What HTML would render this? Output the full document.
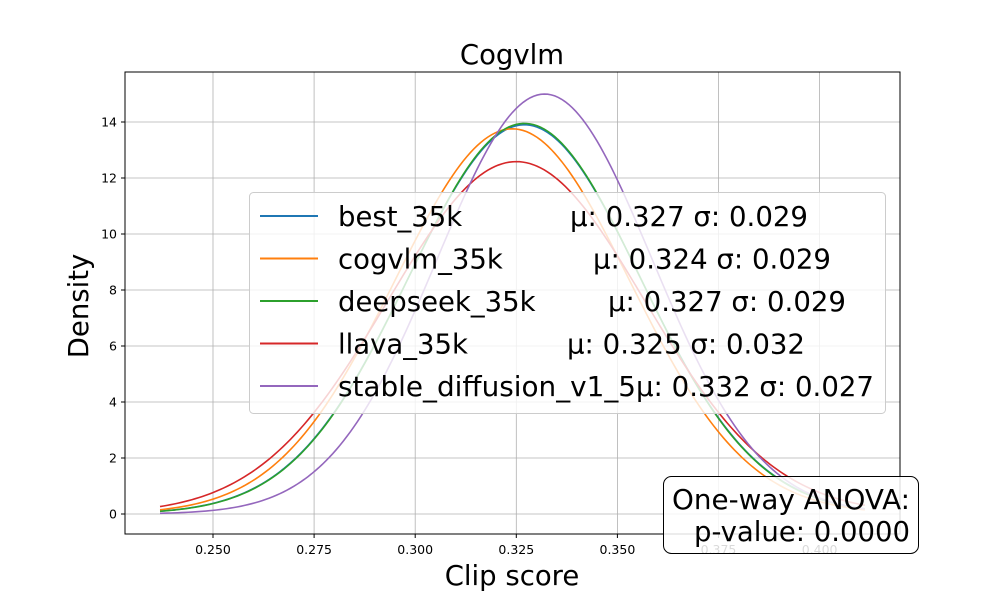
<!DOCTYPE html>
<html><head><meta charset="utf-8"><style>
body{margin:0;background:#fff}
svg{display:block;font-family:"DejaVu Sans","Liberation Sans",sans-serif}
</style></head><body>
<svg id="chart" width="1000" height="600" viewBox="0 0 1000 600" xmlns="http://www.w3.org/2000/svg">
<rect width="1000" height="600" fill="#fff"/>
<g id="grid"></g>
<g id="curves"></g>
<rect x="125" y="72" width="775" height="462" fill="none" stroke="#000" stroke-width="1"/>
<g id="ticks"></g>
<text x="512" y="64" font-size="27.5" text-anchor="middle">Cogvlm</text>
<text x="512" y="585" font-size="27.5" text-anchor="middle">Clip score</text>
<text transform="translate(88,306) rotate(-90)" font-size="27.5" text-anchor="middle">Density</text>
<g id="legend"></g>
<g>
<rect x="663.5" y="476.5" width="255" height="77" rx="8" fill="#fff" fill-opacity="0.85" stroke="#000" stroke-width="1"/>
<text x="910" y="509" font-size="27.5" text-anchor="end" textLength="238" lengthAdjust="spacingAndGlyphs">One-way ANOVA:</text>
<text x="910" y="541" font-size="27.5" text-anchor="end">p-value: 0.0000</text>
</g>
</svg>
<script>
const names=["best_35k","cogvlm_35k","deepseek_35k","llava_35k","stable_diffusion_v1_5"];
const mus=[0.327,0.324,0.327,0.325,0.332];
const sigmas=[0.0287,0.0290,0.0286,0.0317,0.0266];
const muLabels=["0.327","0.324","0.327","0.325","0.332"];
const sigmaLabels=["0.029","0.029","0.029","0.032","0.027"];
const xTicks=[0.250,0.275,0.300,0.325,0.350,0.375,0.400];
const yTicks=[0,2,4,6,8,10,12,14];
const xDomain=[0.2369,0.4112];
const colors=["#1f77b4","#ff7f0e","#2ca02c","#d62728","#9467bd"];
const NS="http://www.w3.org/2000/svg";
const X=v=>213+(v-0.25)*4044;
const Y=v=>514-v*28;
function mk(t,a,p){const e=document.createElementNS(NS,t);for(const k in a)e.setAttribute(k,a[k]);p.appendChild(e);return e;}
const grid=document.getElementById('grid'),ticks=document.getElementById('ticks');
xTicks.forEach(t=>{const x=X(t);
 const g=mk('line',{x1:x,x2:x,y1:72,y2:534,stroke:'#b0b0b0','stroke-width':0.8},grid);
 
 const l=mk('line',{x1:x,x2:x,y1:534,y2:538,stroke:'#000'},ticks);
 
 const tx=mk('text',{x:x,y:554,'font-size':12.5,'text-anchor':'middle'},ticks);tx.textContent=t.toFixed(3);
 });
yTicks.forEach(t=>{const y=Y(t);
 const g=mk('line',{x1:125,x2:900,y1:y,y2:y,stroke:'#b0b0b0','stroke-width':0.8},grid);
 
 const l=mk('line',{x1:121,x2:125,y1:y,y2:y,stroke:'#000'},ticks);
 
 const tx=mk('text',{x:117,y:y+4.5,'font-size':12.5,'text-anchor':'end'},ticks);tx.textContent=t;
 });
const curves=document.getElementById('curves');
names.forEach((n,i)=>{let d='';const N=200;
 for(let k=0;k<=N;k++){const v=xDomain[0]+(xDomain[1]-xDomain[0])*k/N;
  const p=Math.exp(-0.5*((v-mus[i])/sigmas[i])**2)/(sigmas[i]*Math.sqrt(2*Math.PI));
  d+=(k?'L':'M')+X(v).toFixed(2)+','+Y(p).toFixed(2);}
 const e=mk('path',{d:d,fill:'none',stroke:colors[i],'stroke-width':1.6},curves);
 });
const leg=document.getElementById('legend');
const lb=mk('rect',{x:249.5,y:192.5,width:636,height:221,rx:4,fill:'#fff','fill-opacity':0.8,stroke:'#ccc'},leg);

const muX=[570,593,608,567,636];
names.forEach((n,i)=>{const y=216+i*42.5;
 const l=mk('line',{x1:260,x2:318,y1:y,y2:y,stroke:colors[i],'stroke-width':2},leg);
 
 const t=mk('text',{x:338,y:y+10,'font-size':27.5},leg);t.textContent=n;
 if(i===4){t.setAttribute('textLength',298);t.setAttribute('lengthAdjust','spacingAndGlyphs');}
 
 const s=mk('text',{x:muX[i],y:y+10,'font-size':27.5,textLength:238,lengthAdjust:'spacingAndGlyphs'},leg);s.textContent='μ: '+muLabels[i]+' σ: '+sigmaLabels[i];
 });
</script>
</body></html>
